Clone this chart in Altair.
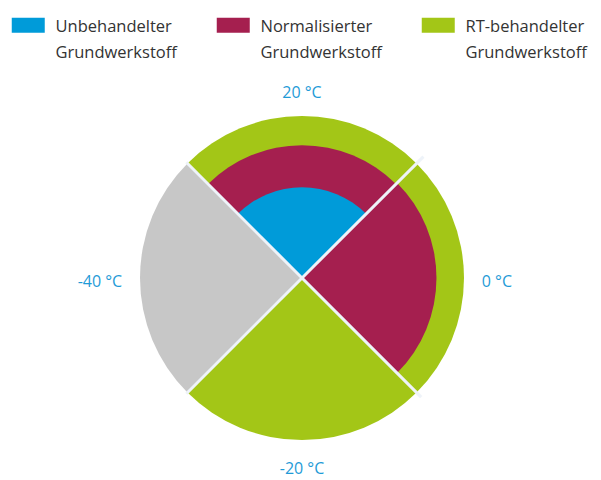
import math
import altair as alt
import pandas as pd

# ---- data ----
series = ["Unbehandelter Grundwerkstoff", "Normalisierter Grundwerkstoff", "RT-behandelter Grundwerkstoff"]
grey_name = "ohne Angabe"
temps = ["20 °C", "0 °C", "-20 °C", "-40 °C"]
quad_start = [-45, 45, 135, 225]
quad_end = [45, 135, 225, 315]
# radial extent per temperature (None = no segment)
unbehandelt = [56, None, None, None]
normalisiert = [82, 83, None, None]
rt_behandelt = [100, 100, 100, None]
ohne = [None, None, None, 100]

colors = ["#009bd9", "#a51f4f", "#a3c617", "#c7c7c7"]

sep_angles = [45, 135, 225, 315]
sep_lengths = [106, 104, 101, 101]

label_r = 111
label_side = ["top", "right", "bottom", "left"]
label_angle = [0, 90, 180, 270]

# ---- tables ----
rows = []
order = 0
for name, vals in [(grey_name, ohne), (series[2], rt_behandelt), (series[1], normalisiert), (series[0], unbehandelt)]:
    for t, a, b, v in zip(temps, quad_start, quad_end, vals):
        if v is not None:
            rows.append({"serie": name, "temp": t, "t1": a, "t2": b, "wert": v, "ord": order})
            order += 1
arcs = pd.DataFrame(rows)

sep_rows = []
for a, l in zip(sep_angles, sep_lengths):
    for r in (0, l):
        sep_rows.append({"winkel": a, "r": r})
seps = pd.DataFrame(sep_rows)

labs = pd.DataFrame({"temp": temps, "seite": label_side, "winkel": label_angle, "r": [label_r] * 4})

W = 324
R = W / 2
theta_scale = alt.Scale(domain=[0, 360], range=[0, 2 * math.pi])
xs = alt.Scale(domain=[-100, 100])
ys = alt.Scale(domain=[-100, 100])

arc = alt.Chart(arcs).mark_arc(stroke=None).encode(
    theta=alt.Theta("t1:Q", scale=theta_scale, stack=None),
    theta2="t2:Q",
    radius=alt.Radius("wert:Q", scale=alt.Scale(type="linear", domain=[0, 100], range=[0, R])),
    color=alt.Color(
        "serie:N",
        scale=alt.Scale(domain=series + [grey_name], range=colors),
        legend=alt.Legend(
            values=series,
            title=None,
            orient="none",
            legendX=-120,
            legendY=-92,
            direction="horizontal",
            columns=3,
            columnPadding=39,
            symbolType="M-2.2,-1.96H2.2V0.04H-2.2Z",
            symbolSize=225,
            symbolStrokeWidth=0,
            labelOffset=19,
            labelFont="Open Sans",
            labelFontSize=16.5,
            labelColor="#333333",
            labelLimit=300,
            labelBaseline="alphabetic",
            labelExpr="split(datum.label, ' ')",
        ),
    ),
    order=alt.Order("ord:Q"),
)

sep = alt.Chart(seps).transform_calculate(
    x="datum.r * sin(datum.winkel * PI / 180)",
    y="datum.r * cos(datum.winkel * PI / 180)",
).mark_line(color="#eef3f9", strokeWidth=3).encode(
    x=alt.X("x:Q", scale=xs, axis=None),
    y=alt.Y("y:Q", scale=ys, axis=None),
    detail="winkel:N",
)

def lab(side, **kw):
    return alt.Chart(labs).transform_filter(alt.datum.seite == side).transform_calculate(
        x="datum.r * sin(datum.winkel * PI / 180)",
        y="datum.r * cos(datum.winkel * PI / 180)",
    ).mark_text(font="Open Sans", fontSize=16, color="#1f9bd7", **kw).encode(
        x=alt.X("x:Q", scale=xs, axis=None),
        y=alt.Y("y:Q", scale=ys, axis=None),
        text="temp:N",
    )

labels = (
    lab("top", align="center", baseline="alphabetic")
    + lab("bottom", align="center", baseline="top", dy=3)
    + lab("right", align="left", baseline="middle", dy=4)
    + lab("left", align="right", baseline="middle", dy=4)
)

chart = alt.layer(arc, sep, labels).properties(
    width=W,
    height=W,
    autosize=alt.AutoSizeParams(type="none"),
    padding={"left": 132, "top": 108, "right": 129, "bottom": 38},
).configure(style={"guide-label": {"lineHeight": 26}}).configure_view(stroke=None)

chart.save("out.html", embed_options={"renderer": "svg", "actions": False})
